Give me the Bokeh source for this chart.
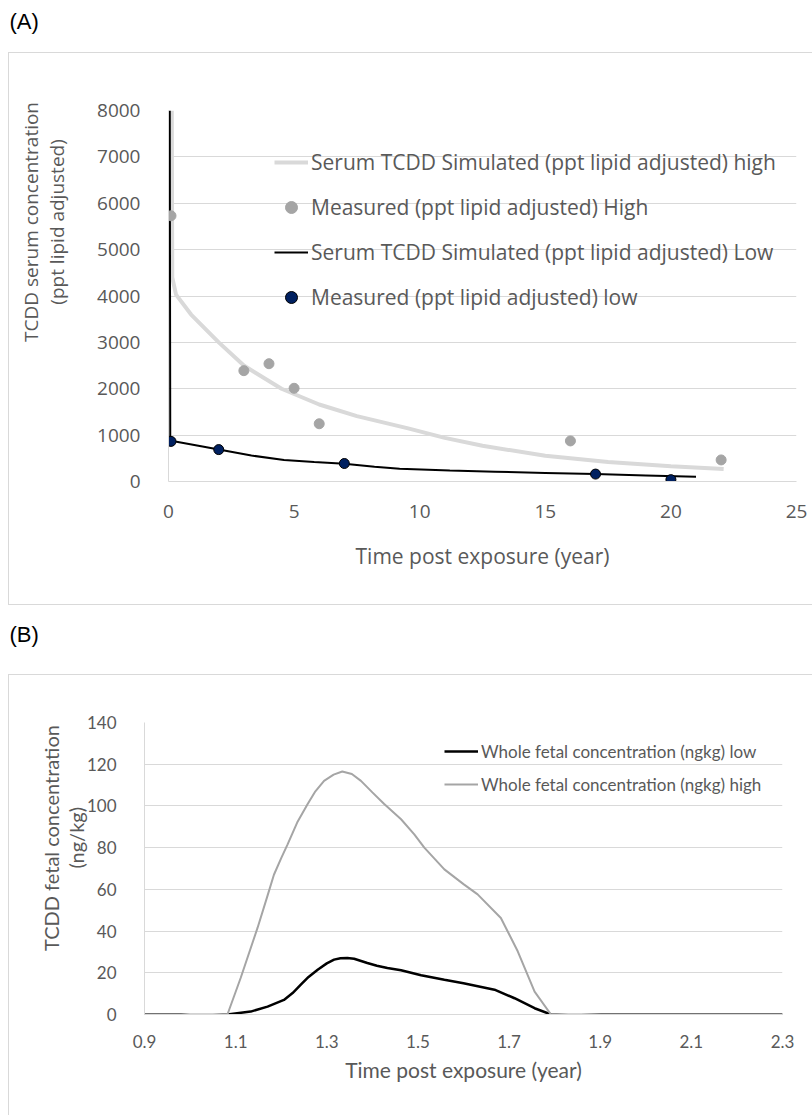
from bokeh.plotting import figure
from bokeh.layouts import column
from bokeh.models import (Range1d, FixedTicker, Label, Legend, LegendItem,
                          NumeralTickFormatter)
from bokeh.embed import file_html
from bokeh.resources import INLINE

# ---------------- Panel A data ----------------
simA_high_t = [0.13, 0.15, 0.3, 0.9, 2, 3, 4.5, 6, 7.5, 9.5, 11, 12.5, 15, 17.5, 20, 22.1]
simA_high_v = [8000, 4400, 4030, 3600, 3000, 2500, 2000, 1660, 1410, 1150, 940, 770, 555, 420, 330, 267]

simA_low_t = [0.05, 0.07, 0.1, 1.3, 2, 3.3, 4.6, 5.8, 7, 8.2, 9.2, 11.2, 13, 15, 17, 19, 21]
simA_low_v = [8000, 900, 880, 760, 690, 560, 465, 420, 385, 320, 275, 235, 210, 185, 160, 130, 100]

measA_high_t = [0.1, 3, 4, 5, 6, 16, 22]
measA_high_v = [5730, 2390, 2540, 2010, 1245, 875, 465]

measA_low_t = [0.1, 2, 7, 17, 20]
measA_low_v = [865, 688, 388, 160, 40]

xA_ticks = [0, 5, 10, 15, 20, 25]
yA_ticks = [0, 1000, 2000, 3000, 4000, 5000, 6000, 7000, 8000]

# ---------------- Panel B data ----------------
fetal_low_t = [0.9, 0.98, 1.0, 1.05, 1.082, 1.133, 1.17, 1.206, 1.225, 1.243, 1.26, 1.28,
               1.3, 1.316, 1.33, 1.345, 1.36, 1.389, 1.41, 1.433, 1.463, 1.507, 1.558,
               1.6, 1.668, 1.712, 1.756, 1.792, 1.843, 1.902, 2.3]
fetal_low_v = [0, 0, -0.4, -0.3, 0, 1.4, 3.8, 7.0, 10.3, 14.3, 18.0, 21.5,
               24.5, 26.3, 27.0, 27.1, 26.7, 24.7, 23.4, 22.3, 21.2, 18.8, 16.7,
               15.0, 11.9, 7.8, 3.0, 0, -0.5, 0, 0]

fetal_high_t = [0.9, 1.0, 1.082, 1.111, 1.148, 1.17, 1.184, 1.2, 1.214, 1.235, 1.258, 1.275,
                1.294, 1.315, 1.334, 1.355, 1.375, 1.4, 1.426, 1.463, 1.492, 1.514, 1.558,
                1.6, 1.631, 1.682, 1.719, 1.756, 1.792, 2.3]
fetal_high_v = [0, 0, 0, 17.5, 41.5, 57, 67, 75, 81.6, 92, 100.9, 107,
                112, 115, 116.5, 115.3, 112, 106.5, 100.9, 93.6, 86.4, 80, 69.6,
                62.5, 57.6, 46.3, 30.3, 11, 0, 0]

xB_ticks = [0.9, 1.1, 1.3, 1.5, 1.7, 1.9, 2.1, 2.3]
yB_ticks = [0, 20, 40, 60, 80, 100, 120, 140]

TXT = "#595959"
GRID = "#d9d9d9"
BOX = "1px solid #d9d9d9"
FA = "Open Sans"
FB = "Lato"
NB = "\u00a0"


def style_axes(p, font, tick_size, xtitle_size, ytitle_size):
    for ax in (p.xaxis[0], p.yaxis[0]):
        ax.major_tick_line_color = None
        ax.minor_tick_line_color = None
        ax.axis_line_color = GRID
        ax.major_label_text_font = font
        ax.major_label_text_font_size = tick_size
        ax.major_label_text_color = TXT
        ax.axis_label_text_font = font
        ax.axis_label_text_color = TXT
        ax.axis_label_text_font_style = "normal"
    p.xaxis.axis_label_text_font_size = xtitle_size
    p.yaxis.axis_label_text_font_size = ytitle_size
    p.xgrid.grid_line_color = None
    p.ygrid.grid_line_color = GRID
    p.outline_line_color = None


def header(text, h, ty):
    hp = figure(width=812, height=h, output_backend="svg", toolbar_location=None,
                x_range=Range1d(0, 812), y_range=Range1d(0, h),
                x_axis_type=None, y_axis_type=None, min_border=0, frame_align=False)
    hp.outline_line_color = None
    hp.add_layout(Label(x=9, y=ty, text=text,
                        text_font="Liberation Sans", text_font_size="22px",
                        text_color="black", text_baseline="middle"))
    return hp


# ---------------- Figure A ----------------
hA = header("(A)", 52, 31)

pA = figure(frame_width=627, frame_height=369, output_backend="svg", toolbar_location=None,
            x_range=Range1d(0, 25), y_range=Range1d(0, 8000),
            min_border_left=159, min_border_right=17, min_border_top=57,
            min_border_bottom=125, margin=(0, 0, 0, 8), frame_align=False,
            styles={"border-left": BOX, "border-top": BOX, "border-bottom": BOX})
style_axes(pA, FA, "19px", "21px", "19px")
pA.xaxis.ticker = FixedTicker(ticks=xA_ticks)
pA.yaxis.ticker = FixedTicker(ticks=yA_ticks)
pA.xaxis.axis_label = "Time post exposure (year)"
padA = NB * 30
pA.yaxis.axis_label = padA + "TCDD serum concentration\n" + padA + "(ppt lipid adjusted)"
pA.yaxis.axis_label_text_line_height = 1.0
pA.yaxis.major_label_standoff = 22
pA.yaxis.axis_label_standoff = 24
pA.xaxis.major_label_standoff = 17
pA.xaxis.axis_label_standoff = 21

rA1 = pA.line(simA_high_t, simA_high_v, line_color="#d9d9d9", line_width=4)
rA3 = pA.line(simA_low_t, simA_low_v, line_color="black", line_width=2)
rA2 = pA.scatter(measA_high_t, measA_high_v, size=10, fill_color="#a5a5a5",
                 line_color="#a5a5a5")
rA4 = pA.scatter(measA_low_t, measA_low_v, size=10, fill_color="#002060",
                 line_color="black", line_width=1)

legA = Legend(items=[
    LegendItem(label="Serum TCDD Simulated (ppt lipid adjusted) high", renderers=[rA1]),
    LegendItem(label="Measured (ppt lipid adjusted) High", renderers=[rA2]),
    LegendItem(label="Serum TCDD Simulated (ppt lipid adjusted) Low", renderers=[rA3]),
    LegendItem(label="Measured (ppt lipid adjusted) low", renderers=[rA4]),
], location=(106, 169))
legA.glyph_width = 34
legA.glyph_height = 30
legA.label_height = 30
legA.label_standoff = 3
legA.spacing = 15
legA.padding = 0
legA.margin = 0
legA.border_line_color = None
legA.background_fill_alpha = 0
legA.label_text_font = FA
legA.label_text_font_size = "21px"
legA.label_text_color = TXT
pA.add_layout(legA)

# ---------------- Figure B ----------------
hB = header("(B)", 69, 40)

pB = figure(frame_width=637, frame_height=291, output_backend="svg", toolbar_location=None,
            x_range=Range1d(0.9, 2.3), y_range=Range1d(0, 140),
            min_border_left=135, min_border_right=31, min_border_top=47,
            min_border_bottom=102, margin=(0, 0, 0, 8), frame_align=False,
            styles={"border-left": BOX, "border-top": BOX})
style_axes(pB, FB, "17px", "21px", "20px")
pB.xaxis.ticker = FixedTicker(ticks=xB_ticks)
pB.yaxis.ticker = FixedTicker(ticks=yB_ticks)
pB.xaxis.formatter = NumeralTickFormatter(format="0.0")
pB.xaxis.axis_label = "Time post exposure (year)"
padB = NB * 12
pB.yaxis.axis_label = padB + "TCDD fetal concentration\n" + padB + "(ng/kg)"
pB.yaxis.axis_label_text_line_height = 1.05
pB.yaxis.major_label_standoff = 22
pB.yaxis.axis_label_standoff = -4
pB.xaxis.major_label_standoff = 14
pB.xaxis.axis_label_standoff = 6

rB1 = pB.line(fetal_low_t, fetal_low_v, line_color="black", line_width=2.5)
rB2 = pB.line(fetal_high_t, fetal_high_v, line_color="#a5a5a5", line_width=2)

legB = Legend(items=[
    LegendItem(label="Whole fetal concentration (ngkg) low", renderers=[rB1]),
    LegendItem(label="Whole fetal concentration (ngkg) high", renderers=[rB2]),
], location=(300, 219))
legB.glyph_width = 34
legB.glyph_height = 22
legB.label_height = 22
legB.label_standoff = 3
legB.spacing = 11
legB.padding = 0
legB.margin = 0
legB.border_line_color = None
legB.background_fill_alpha = 0
legB.label_text_font = FB
legB.label_text_font_size = "17px"
legB.label_text_color = TXT
pB.add_layout(legB)

layout = column(hA, pA, hB, pB, spacing=0)
open("out.html", "w").write(file_html(layout, INLINE))
